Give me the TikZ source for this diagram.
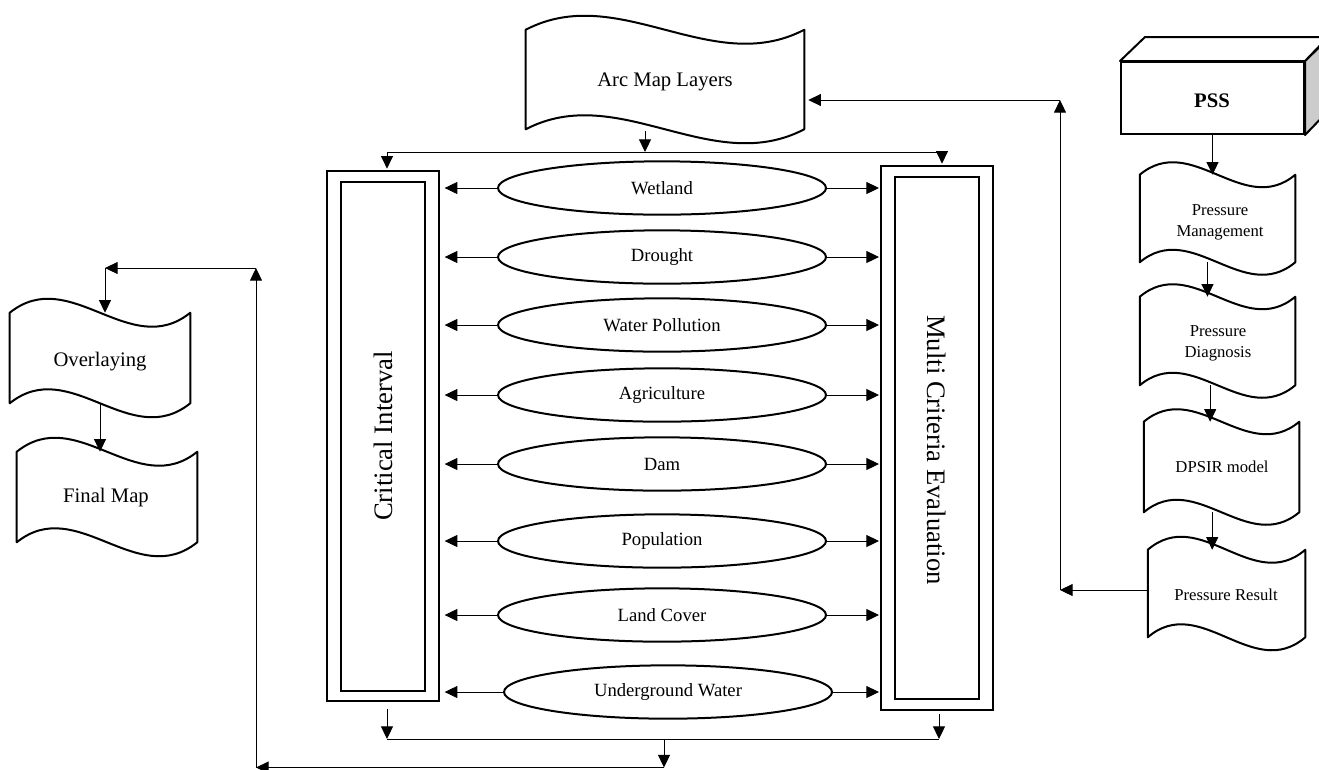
\documentclass[tikz,border=0pt]{standalone}
\usepackage{fontspec}
\setmainfont{Liberation Serif}
\usetikzlibrary{arrows.meta,calc,shapes.geometric,fit}
\tikzset{
  arr/.style={-{Triangle[length=9.5pt,width=9pt]}, line width=0.75pt},
  conn/.style={line width=0.75pt},
  dbox/.style={draw, line width=1.5pt, inner sep=0pt},
  ell/.style={ellipse, draw, line width=1.5pt, minimum width=246pt, minimum height=40pt, inner sep=0pt, font=\fontsize{14}{16}\selectfont},
  wavenode/.style={inner sep=0pt},
  wavetext/.style={inner sep=0pt, align=center},
  bigtxt/.style={font=\fontsize{20}{24}\selectfont},
  midtxt/.style={font=\fontsize{15.5}{18}\selectfont},
  smalltxt/.style={font=\fontsize{12.5}{15.5}\selectfont},
}
\newcommand{\wavedraw}[2]{%
  \draw[line width=1.5pt, line join=round] (#1.north west)
   .. controls ($(#1.north west)!1/3!(#1.north east)+(0,-3.46*#2)$) and ($(#1.north west)!2/3!(#1.north east)+(0,3.46*#2)$) .. (#1.north east)
   -- (#1.south east)
   .. controls ($(#1.south west)!2/3!(#1.south east)+(0,3.46*#2)$) and ($(#1.south west)!1/3!(#1.south east)+(0,-3.46*#2)$) .. (#1.south west) -- cycle;}
\begin{document}
\begin{tikzpicture}[x=0.75pt,y=-0.75pt]
\useasboundingbox (0,0) rectangle (1319,769);
\clip (0,0) rectangle (1319,769);
\fill[white] (0,0) rectangle (1319,769);

% Arc Map Layers
\node[wavenode, fit={(526,30)(804,129)}] (arc) {};
\wavedraw{arc}{14}
\node[wavetext, midtxt] (arcT) at (665,82) {Arc Map Layers};

% Ellipses
\node[ell] (e1) at (662,188) {Wetland};
\node[ell] (e2) at (662,257) {Drought};
\node[ell] (e3) at (662,325) {Water Pollution};
\node[ell] (e4) at (662,395) {Agriculture};
\node[ell] (e5) at (662,464) {Dam};
\node[ell] (e6) at (662,541) {Population};
\node[ell] (e7) at (662,615) {Land Cover};
\node[ell] (e8) at (668,692) {Underground Water};

% Double boxes
\node[dbox, fit={(327,171)(439,701)}] (ci) {};
\node[dbox, fit={(341,182)(425,691)}] (ciin) {};
\node[rotate=90, bigtxt] (ciT) at (383,436) {Critical Interval};
\node[dbox, fit={(881,166)(993,710)}] (mce) {};
\node[dbox, fit={(895,177)(979,699)}] (mcein) {};
\node[rotate=-90, bigtxt] (mceT) at (937,450) {Multi Criteria Evaluation};

% top distribution
\coordinate (tl) at (387,152);
\coordinate (tr) at (942,152);
\coordinate (tm) at (645,152);
\draw[conn] (tl) -- (tr);
\draw[arr] ($(tm |- arc.south)+(0,2)$) -- (tm);
\draw[arr, shorten >=1pt] (tl) -- (tl |- ci.north);
\draw[arr, shorten >=1pt] (tr) -- (tr |- mce.north);

% ellipse arrows
\foreach \e in {e1,e2,e3,e4,e5,e6,e7,e8}{
  \draw[arr, shorten >=3.5pt] (\e.west) -- (\e.west -| ci.east);
  \draw[arr, shorten >=0.75pt] (\e.east) -- (\e.east -| mce.west);
}

% Overlaying and Final Map
\node[wavenode, fit={(10,313)(190,403)}] (ov) {};
\wavedraw{ov}{14}
\node[wavetext, midtxt] (ovT) at (100,362) {Overlaying};
\node[wavenode, fit={(17,452)(197,542)}] (fm) {};
\wavedraw{fm}{14}
\node[wavetext, midtxt] (fmT) at (106,498) {Final Map};

% bottom collection
\coordinate (bl) at (387,739);
\coordinate (br) at (939,739);
\coordinate (bm) at (664,739);
\coordinate (bb) at (664,767.5);
\coordinate (lb) at (256,767.5);
\coordinate (lt) at (256,268);
\coordinate (ot) at (105,268);
\draw[conn] (bl) -- (br);
\draw[arr] ($(ci.south -| bl)+(0,7)$) -- (bl);
\draw[arr] ($(mce.south -| br)+(0,3)$) -- (br);
\draw[arr] (bm) -- (bb);
\draw[arr] (bb) -- (lb);
\draw[arr] (lb) -- (lt);
\draw[arr] (lt) -- (ot);
\draw[arr] (ot) -- (ot |- ov.north);
\draw[arr] (ov.south) -- (ov.south |- fm.north);

% PSS box
\node[dbox, fill=white, fit={(1121,62)(1304,134)}] (pss) {};
\node[font=\bfseries\fontsize{15.5}{18}\selectfont] (pssT) at (1212,101) {PSS};
\draw[line width=1.5pt, line join=round, fill=gray!40] (pss.north east) -- ++(25,-24) -- ++(0,72) -- (pss.south east) -- cycle;
\draw[line width=1.5pt, line join=round, fill=white] (pss.north west) -- ++(25,-24) -- ++(183,0) -- (pss.north east) -- cycle;

% right column
\node[wavenode, fit={(1140,175)(1295,262)}] (pm) {};
\wavedraw{pm}{12.5}
\node[wavetext, smalltxt] (pmT) at (1220,222.5) {Pressure\\Management};
\node[wavenode, fit={(1140,297)(1295,385)}] (pd) {};
\wavedraw{pd}{12.5}
\node[wavetext, smalltxt] (pdT) at (1218,343) {Pressure\\Diagnosis};
\node[wavenode, fit={(1144,422)(1299,512)}] (dp) {};
\wavedraw{dp}{12.5}
\node[wavetext, smalltxt] (dpT) at (1222,467) {DPSIR model};
\node[wavenode, fit={(1148,550)(1305,637)}] (pr) {};
\wavedraw{pr}{13}
\node[wavetext, smalltxt] (prT) at (1226,595) {Pressure Result};

\draw[arr] (pss.south) -- (pss.south |- pm.north);
\draw[arr] ([xshift=-7.5pt]pm.south) -- ([xshift=-7.5pt]pm.south |- pd.north);
\draw[arr] ([xshift=-5.5pt]pd.south) -- ([xshift=-5.5pt]pd.south |- dp.north);
\draw[arr] ([xshift=-7pt]dp.south) -- ([xshift=-7pt]dp.south |- pr.north);

\coordinate (rb) at (1060,590);
\coordinate (rt) at (1060,100);
\draw[arr] (rb -| pr.west) -- (rb);
\draw[arr] (rb) -- (rt);
\draw[arr, shorten >=3pt] (rt) -- (rt -| arc.east);
\end{tikzpicture}
\end{document}
